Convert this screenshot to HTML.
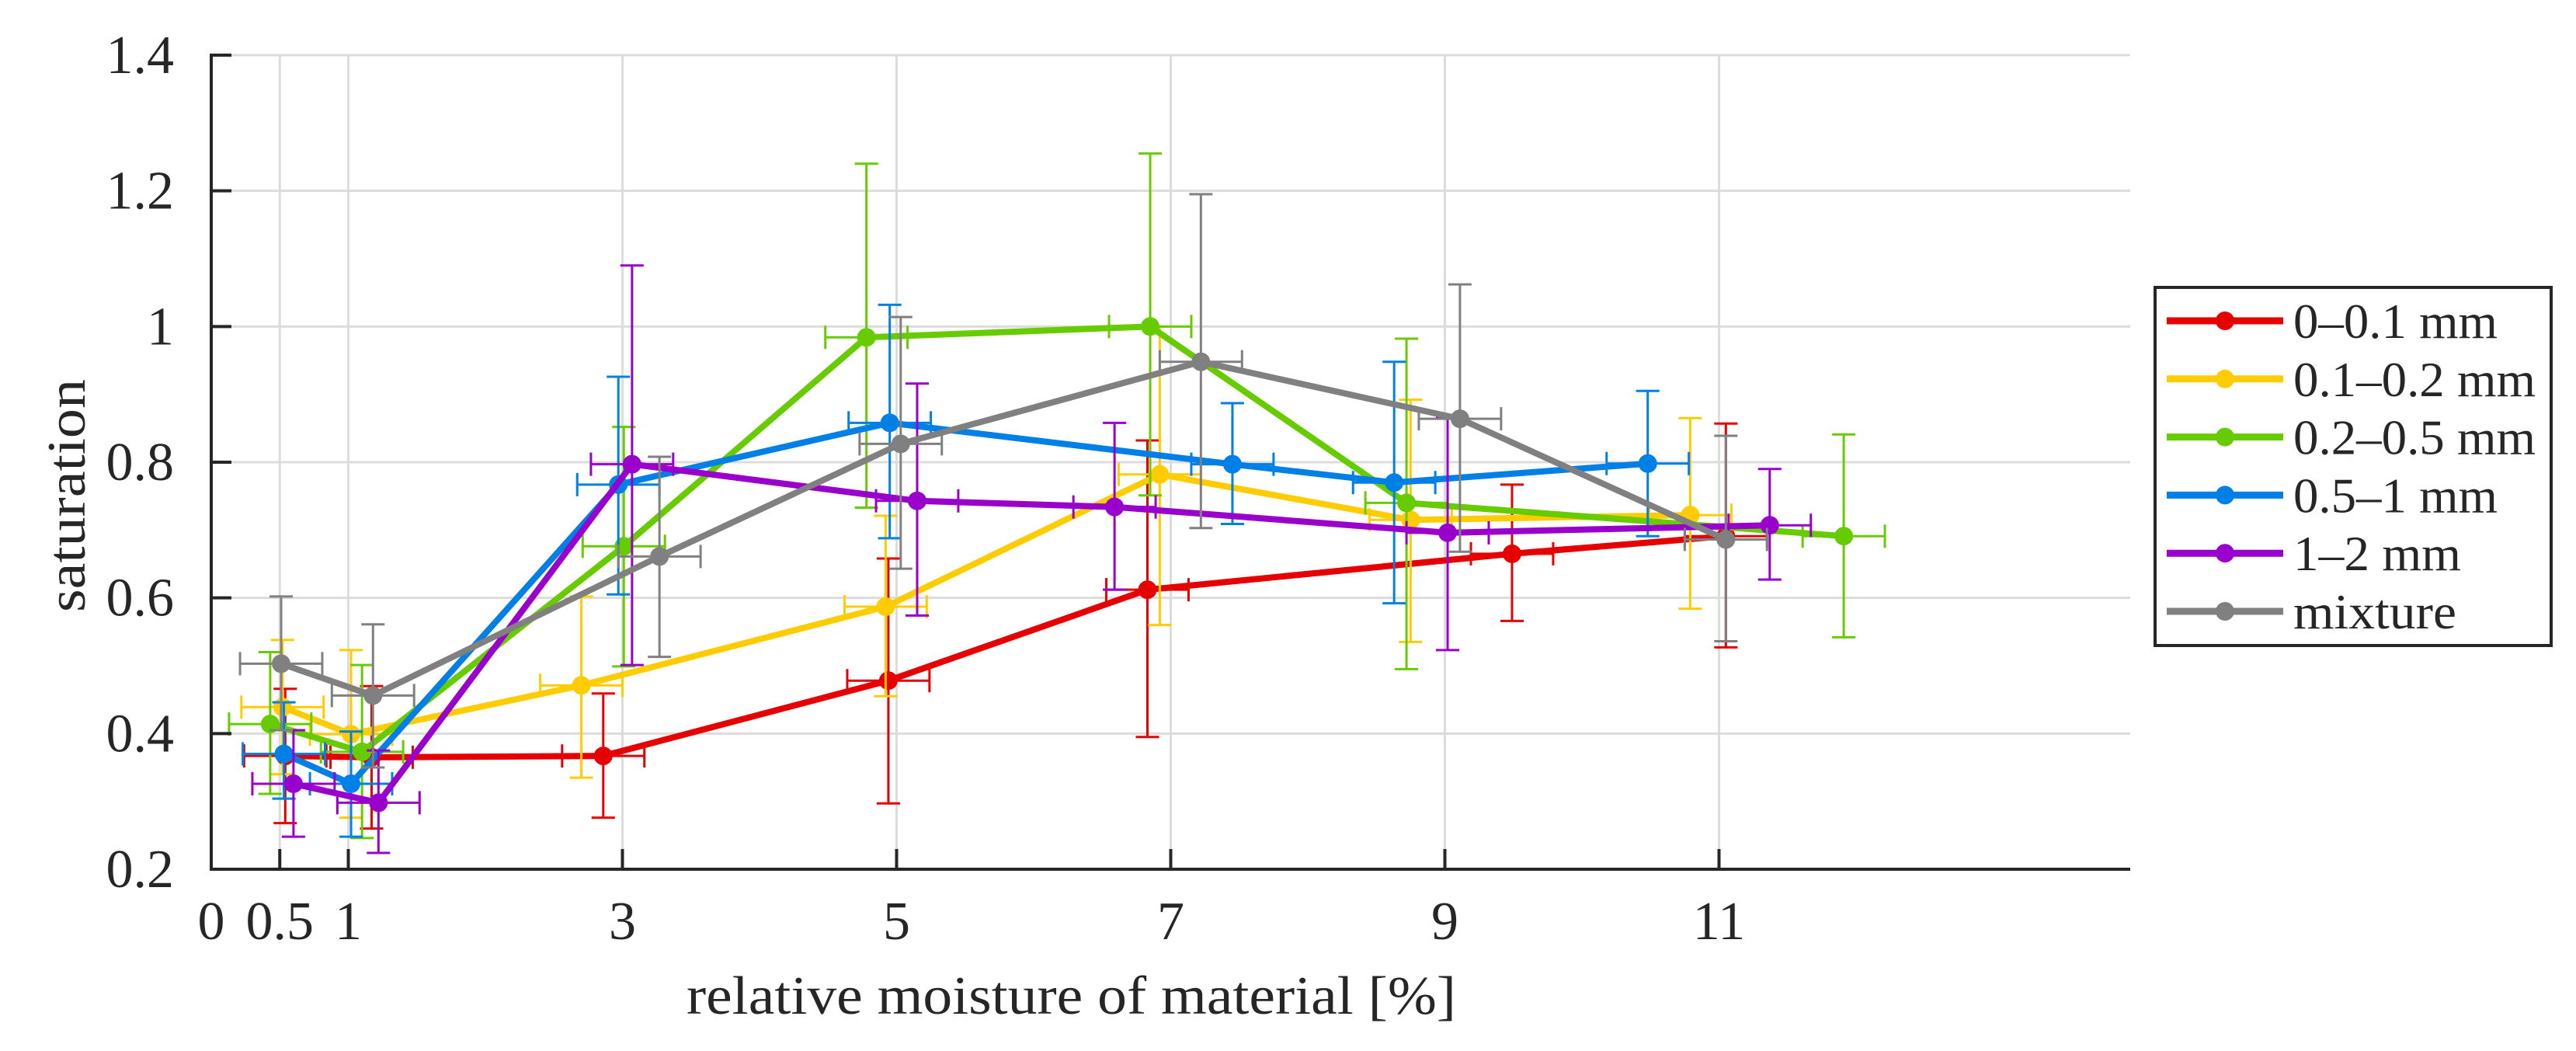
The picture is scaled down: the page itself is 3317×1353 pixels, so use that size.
<!DOCTYPE html>
<html><head><meta charset="utf-8">
<style>
html,body{margin:0;padding:0;background:#fff;}
svg{display:block;}
text{font-family:"Liberation Serif",serif;fill:#262626;}
</style></head>
<body>
<svg id="chart" width="3317" height="1353" viewBox="0 0 3317 1353" xmlns="http://www.w3.org/2000/svg">
<g id="grid"></g>
<g id="series"></g>
<g id="axes"></g>
<text x="0" y="0" font-size="70" text-anchor="middle" transform="translate(109,638) rotate(-90)" textLength="300" lengthAdjust="spacingAndGlyphs">saturation</text>
<text x="884" y="1305" font-size="70" textLength="991" lengthAdjust="spacingAndGlyphs">relative moisture of material [%]</text>
<g id="legend"></g>
</svg>
<script>
const seriesNames = ["0–0.1 mm","0.1–0.2 mm","0.2–0.5 mm","0.5–1 mm","1–2 mm","mixture"];
const seriesColors = ["#e60000","#ffcc00","#66cc00","#0080e6","#9900cc","#808080"];
const xTicks = [0,0.5,1,3,5,7,9,11];
const xTickLabels = ["0","0.5","1","3","5","7","9","11"];
const yTicks = [0.2,0.4,0.6,0.8,1,1.2,1.4];
const yTickLabels = ["0.2","0.4","0.6","0.8","1","1.2","1.4"];

const xRed = [0.54,1.17,2.86,4.94,6.83,9.49,11.05];
const yRed = [0.367,0.365,0.367,0.478,0.612,0.665,0.691];
const loRed = [0.268,0.26,0.276,0.297,0.395,0.566,0.527];
const hiRed = [0.466,0.47,0.459,0.658,0.832,0.767,0.857];

const xYellow = [0.52,1.02,2.70,4.92,6.92,8.75,10.79];
const yYellow = [0.439,0.399,0.471,0.587,0.782,0.715,0.722];
const loYellow = [0.34,0.276,0.335,0.455,0.56,0.535,0.584];
const hiYellow = [0.538,0.523,0.602,0.721,1.0,0.892,0.865];

const xGreen = [0.43,1.10,3.01,4.78,6.85,8.72,11.91];
const yGreen = [0.414,0.373,0.676,0.984,1.0,0.740,0.691];
const loGreen = [0.311,0.246,0.499,0.733,0.751,0.495,0.542];
const hiGreen = [0.52,0.501,0.852,1.24,1.255,0.982,0.841];

const xBlue = [0.53,1.02,2.97,4.95,7.45,8.63,10.48];
const yBlue = [0.370,0.326,0.767,0.858,0.797,0.770,0.798];
const loBlue = [0.304,0.248,0.605,0.688,0.709,0.592,0.691];
const hiBlue = [0.446,0.403,0.926,1.032,0.887,0.948,0.905];

const xPurple = [0.60,1.22,3.07,5.15,6.59,9.02,11.37];
const yPurple = [0.326,0.298,0.797,0.743,0.734,0.696,0.707];
const loPurple = [0.248,0.224,0.501,0.574,0.612,0.523,0.627];
const hiPurple = [0.405,0.375,1.09,0.916,0.858,0.866,0.79];

const xGray = [0.51,1.18,3.27,5.03,7.22,9.11,11.05];
const yGray = [0.503,0.456,0.661,0.827,0.948,0.864,0.686];
const loGray = [0.405,0.35,0.513,0.643,0.703,0.668,0.536];
const hiGray = [0.602,0.561,0.808,1.014,1.195,1.062,0.839];

const xErr = 0.3;

const allX = [xRed,xYellow,xGreen,xBlue,xPurple,xGray];
const allY = [yRed,yYellow,yGreen,yBlue,yPurple,yGray];
const allLo = [loRed,loYellow,loGreen,loBlue,loPurple,loGray];
const allHi = [hiRed,hiYellow,hiGreen,hiBlue,hiPurple,hiGray];

const L=272, R=2743, T=71, B=1119;
const xMin=0, xMax=14, yMin=0.2, yMax=1.4;
function sx(v){return L+(v-xMin)/(xMax-xMin)*(R-L);}
function sy(v){return B-(v-yMin)/(yMax-yMin)*(B-T);}
const NS="http://www.w3.org/2000/svg";
function mk(tag,attrs,parent){const e=document.createElementNS(NS,tag);for(const k in attrs)e.setAttribute(k,attrs[k]);parent.appendChild(e);return e;}

const grid=document.getElementById('grid');
xTicks.forEach(function(t){ if(t===0) return;
  const g=mk('line',{x1:sx(t),x2:sx(t),y1:T,y2:B,stroke:'#dcdcdc','stroke-width':3},grid);
  
  
});
yTicks.forEach(function(t){ if(t===yMin) return;
  const g=mk('line',{x1:L,x2:R,y1:sy(t),y2:sy(t),stroke:'#dcdcdc','stroke-width':3},grid);
  
  
});

const axes=document.getElementById('axes');
const ya=mk('line',{x1:L,x2:L,y1:T-2,y2:B+2,stroke:'#262626','stroke-width':4},axes);


const xa=mk('line',{x1:L-2,x2:R,y1:B,y2:B,stroke:'#262626','stroke-width':4},axes);


xTicks.forEach(function(t,i){
  const tk=mk('line',{x1:sx(t),x2:sx(t),y1:B,y2:B-26,stroke:'#262626','stroke-width':4},axes);
  
  
  const tx=mk('text',{x:sx(t),y:1209,'font-size':70,'text-anchor':'middle'},axes);
  tx.textContent=xTickLabels[i];
  
  
});
yTicks.forEach(function(t,i){
  const tk=mk('line',{x1:L,x2:L+26,y1:sy(t),y2:sy(t),stroke:'#262626','stroke-width':4},axes);
  
  
  const tx=mk('text',{x:224,y:sy(t)+23,'font-size':70,'text-anchor':'end'},axes);
  tx.textContent=yTickLabels[i];
  
  
});

const sl=document.getElementById('series');
const cap=15;
for(let s=0;s<6;s++){
  const g=mk('g',{},sl);
  
  
  const c=seriesColors[s];
  const xs=allX[s], ys=allY[s], lo=allLo[s], hi=allHi[s];
  for(let i=0;i<xs.length;i++){
    const px=sx(xs[i]), py=sy(ys[i]);
    const eb=mk('path',{d:'M'+px+' '+sy(lo[i])+'V'+sy(hi[i])+'M'+(px-cap)+' '+sy(lo[i])+'H'+(px+cap)+'M'+(px-cap)+' '+sy(hi[i])+'H'+(px+cap)
      +'M'+sx(xs[i]-xErr)+' '+py+'H'+sx(xs[i]+xErr)+'M'+sx(xs[i]-xErr)+' '+(py-cap)+'V'+(py+cap)+'M'+sx(xs[i]+xErr)+' '+(py-cap)+'V'+(py+cap),
      stroke:c,'stroke-width':3,fill:'none'},g);
    
    
  }
  let d='';
  for(let i=0;i<xs.length;i++){d+=(i?'L':'M')+sx(xs[i])+' '+sy(ys[i]);}
  const ln=mk('path',{d:d,stroke:c,'stroke-width':8,fill:'none','stroke-linejoin':'round'},g);
  
  
  for(let i=0;i<xs.length;i++){
    const m=mk('circle',{cx:sx(xs[i]),cy:sy(ys[i]),r:12,fill:c},g);
    
    
  }
}

const lg=document.getElementById('legend');
const box=mk('rect',{x:2775,y:370,width:510,height:461,fill:'#fff',stroke:'#262626','stroke-width':4},lg);


const lw=[263,312,312,263,216,210];
for(let s=0;s<6;s++){
  const y=413+s*74.8;
  const e=mk('g',{},lg);
  
  
  mk('line',{x1:2790,x2:2940,y1:y,y2:y,stroke:seriesColors[s],'stroke-width':9},e);
  mk('circle',{cx:2865,cy:y,r:12,fill:seriesColors[s]},e);
  const t=mk('text',{x:2953,y:y+22,'font-size':64,textLength:lw[s],lengthAdjust:'spacingAndGlyphs',fill:'#000'},e);
  t.textContent=seriesNames[s];
}
</script>
</body></html>
